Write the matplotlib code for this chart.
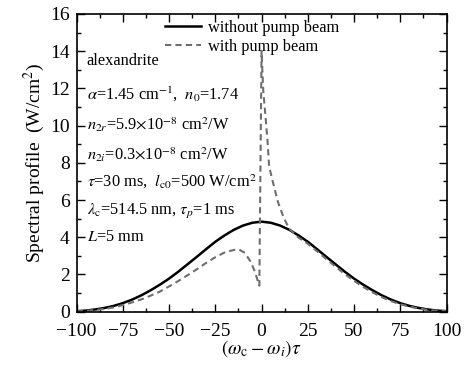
import numpy as np
import matplotlib
matplotlib.use("Agg")
import matplotlib.pyplot as plt
from matplotlib.ticker import MultipleLocator

plt.rcParams["font.family"] = ["Liberation Serif", "DejaVu Serif"]
plt.rcParams["mathtext.fontset"] = "stix"

# ---- data ----
x_solid = [-100, -95, -90, -85, -80, -75, -70, -65, -60, -55, -50, -45, -40, -35, -30,
           -25, -20, -15, -10, -5, 0, 5, 10, 15, 20, 25, 30, 35, 40, 45, 50, 55, 60,
           65, 70, 75, 80, 85, 90, 95, 100]
y_solid = [0.03, 0.06, 0.12, 0.20, 0.31, 0.46, 0.65, 0.88, 1.15, 1.45, 1.78, 2.15, 2.55,
           2.95, 3.36, 3.76, 4.10, 4.40, 4.63, 4.78, 4.84, 4.78, 4.63, 4.40, 4.10, 3.76,
           3.36, 2.95, 2.55, 2.15, 1.78, 1.45, 1.15, 0.88, 0.65, 0.46, 0.31, 0.20, 0.12,
           0.06, 0.03]

x_dash = [-100, -95, -90, -85, -80, -75, -70, -65, -60, -55, -50, -45, -40, -35, -30,
          -25, -20, -15, -12, -9, -6, -4, -2, -1.2, 0, 0.9, 2.3, 3.2, 4.1, 6.3, 9, 12,
          15, 20, 25, 30, 35, 40, 45, 50, 55, 60, 65, 70, 75, 80, 85, 90, 95, 100]
y_dash = [0.02, 0.05, 0.09, 0.15, 0.23, 0.36, 0.50, 0.66, 0.86, 1.08, 1.36, 1.65, 1.96,
          2.28, 2.62, 2.93, 3.18, 3.32, 3.33, 3.16, 2.70, 2.25, 1.65, 1.40, 14.0, 11.9,
          10.3, 9.2, 7.8, 6.9, 5.85, 5.05, 4.45, 3.98, 3.65, 3.25, 2.83, 2.42, 2.02,
          1.66, 1.33, 1.04, 0.78, 0.57, 0.40, 0.27, 0.17, 0.10, 0.05, 0.02]

params = ["alexandrite",
          r"$\alpha$=1.45 cm$^{-1}$,  $n_0$=1.74",
          r"$n_{2r}$=5.9$\times$10$^{-8}$ cm$^2$/W",
          r"$n_{2i}$=0.3$\times$10$^{-8}$ cm$^2$/W",
          r"$\tau$=30 ms,  $l_{\rm c0}$=500 W/cm$^2$",
          r"$\lambda_{\rm c}$=514.5 nm, $\tau_p$=1 ms",
          r"$L$=5 mm"]
params_y = [13.47, 11.68, 10.06, 8.44, 7.0, 5.39, 4.04]

fig = plt.figure(figsize=(4.7, 3.68), dpi=100)
ax = fig.add_axes([0.163, 0.153, 0.787, 0.809])

ax.plot(x_solid, y_solid, color="black", lw=1.8, label="without pump beam")
ax.plot(x_dash, y_dash, color="#6e6e6e", lw=1.5, ls=(0, (3, 2)), label="with pump beam")

for s, yy in zip(params, params_y):
    ax.text(-94.5, yy, s, fontsize=11.8, va="center", ha="left")

ax.set_xlim(-100, 100)
ax.set_ylim(0, 16)
ax.xaxis.set_major_locator(MultipleLocator(25))
ax.xaxis.set_minor_locator(MultipleLocator(12.5))
ax.yaxis.set_major_locator(MultipleLocator(2))
ax.yaxis.set_minor_locator(MultipleLocator(1))
ax.tick_params(which="both", direction="in", top=True, right=True, labelsize=14, width=1)
ax.tick_params(which="major", length=6)
ax.tick_params(which="minor", length=3)
ax.tick_params(axis="x", pad=8)
ax.tick_params(axis="y", pad=5)
for sp in ax.spines.values():
    sp.set_linewidth(1.2)

ax.set_xlabel(r"$(\omega_{\rm c}-\omega_i)\tau$", fontsize=14, labelpad=-1)
ax.set_ylabel(r"Spectral profile  (W/cm$^2$)", fontsize=14, labelpad=2)

ax.legend(loc="upper left", bbox_to_anchor=(0.2, 1.03), frameon=False, fontsize=11.8,
          handlelength=2.2, handletextpad=0.4, labelspacing=0.2)

fig.savefig("out.png", dpi=100)
